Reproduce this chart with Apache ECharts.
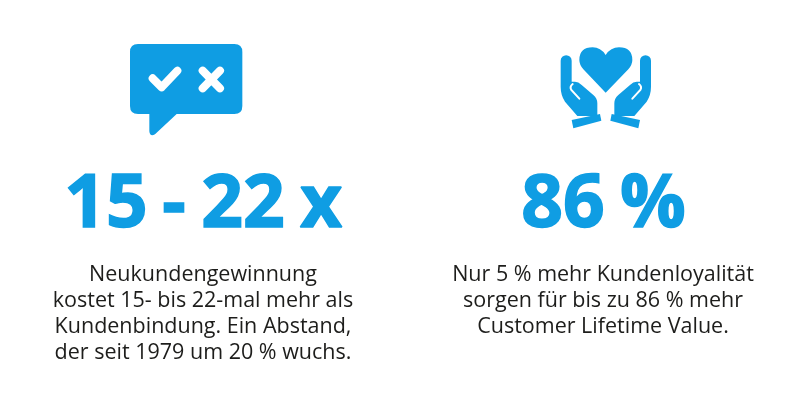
<!DOCTYPE html>
<html>
<head>
<meta charset="utf-8">
<style>html,body{margin:0;background:#fff}#main{width:800px;height:406px}</style>
<script src="https://cdn.jsdelivr.net/npm/echarts@6/dist/echarts.min.js"></script>
</head>
<body>
<div id="main"></div>
<script>
var bigLeft = ['15', '-', '22', 'x'];
var bigRight = ['86', '%'];
var leftLines = ['Neukundengewinnung', 'kostet 15- bis 22-mal mehr als', 'Kundenbindung. Ein Abstand,', 'der seit 1979 um 20 % wuchs.'];
var rightLines = ['Nur 5 % mehr Kundenloyalität', 'sorgen für bis zu 86 % mehr', 'Customer Lifetime Value.'];

var blue = '#0f9de3';
var dark = '#1d1d1b';
var font = '"Open Sans"';
var lineTop = 275, lineStep = 26;
var bigBottom = 243;

var chart = echarts.init(document.getElementById('main'), null, {renderer: 'canvas'});

function bodyText(lines, cx) {
    return lines.map(function (t, i) {
        return {type: 'text', x: cx, y: lineTop + i * lineStep,
            style: {text: t, fill: dark, font: '400 21.5px ' + font, textAlign: 'center', textVerticalAlign: 'middle'}};
    });
}

// the big figures are set tighter than a normal space, so each word sits on its own centre
function bigText(words, centres) {
    return words.map(function (t, i) {
        return {type: 'text', x: centres[i], y: bigBottom,
            style: {text: t, fill: blue, stroke: blue, lineWidth: 1.5, font: '700 73px ' + font, textAlign: 'center', textVerticalAlign: 'bottom'}};
    });
}

// icons are traced in the 3x zoom coordinates, hence the group scale
var third = 1 / 3;
var bubble = {type: 'group', x: 110, y: 30, scaleX: third, scaleY: third, children: [
    {type: 'path', shape: {pathData: 'M84 42 L373 42 Q397 42 397 66 L397 228 Q397 252 373 252 L200 252 L135 313 Q120 322 118 304 L118 252 L84 252 Q60 252 60 228 L60 66 Q60 42 84 42 Z'}, style: {fill: blue}},
    {type: 'path', shape: {pathData: 'M128 145 L155 172 L202 122'}, style: {fill: 'none', stroke: '#fff', lineWidth: 24, lineCap: 'round', lineJoin: 'round'}},
    {type: 'path', shape: {pathData: 'M278 122 L330 175 M330 122 L278 175'}, style: {fill: 'none', stroke: '#fff', lineWidth: 24, lineCap: 'round'}}
]};

var handPath = 'M62 92 A16.5 16.5 0 0 1 95 92 L95 155 L105 155 Q115 155 125 165 L160 195 Q172 205 172 220 L172 258 L112 258 L75 215 Q62 195 62 170 Z';
var slitPath = 'M98 162 Q88 170 94 180 L118 206';
var barPath = 'M95 270 L180 252 L184 272 L100 295 Z';

function hand(mirror) {
    return {type: 'group', x: mirror ? 395 : 0, scaleX: mirror ? -1 : 1, children: [
        {type: 'path', shape: {pathData: handPath}, style: {fill: blue}},
        {type: 'path', shape: {pathData: slitPath}, style: {fill: 'none', stroke: '#fff', lineWidth: 6, lineCap: 'round'}},
        {type: 'path', shape: {pathData: barPath}, style: {fill: blue}}
    ]};
}

var hands = {type: 'group', x: 540, y: 30, scaleX: third, scaleY: third, children: [
    {type: 'path', shape: {pathData: 'M197 188 L130 118 Q118 104 118 90 Q118 52 158 52 Q182 52 197 75 Q212 52 237 52 Q277 52 277 90 Q277 104 265 118 Z'}, style: {fill: blue}},
    hand(false),
    hand(true)
]};

chart.setOption({
    animation: false,
    backgroundColor: '#fff',
    // the graphic component has no path type, the custom series does
    series: [{
        type: 'custom',
        coordinateSystem: 'none',
        silent: true,
        data: [[0]],
        renderItem: function () {
            return {type: 'group', children: [bubble, hands]};
        }
    }],
    graphic: {elements: bigText(bigLeft, [106, 174, 243, 321])
        .concat(bigText(bigRight, [563, 653]), bodyText(leftLines, 203), bodyText(rightLines, 603))}
});
</script>
</body>
</html>
